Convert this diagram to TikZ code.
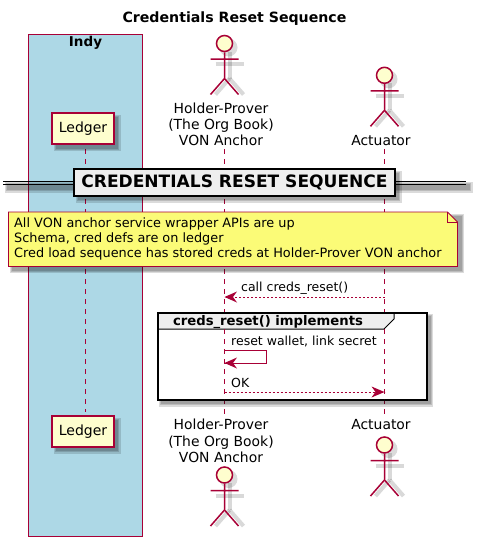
\documentclass[tikz,border=0pt]{standalone}
\usepackage{fontspec}
\setmainfont{DejaVu Sans}
\definecolor{pumlred}{HTML}{A80036}
\definecolor{pumlbeige}{HTML}{FEFECE}
\definecolor{notefill}{HTML}{FBFB77}
\definecolor{boxblue}{HTML}{ADD8E6}
\definecolor{sepfill}{HTML}{EEEEEE}
\tikzset{
  px/.style={x=1pt,y=-1pt},
  lbl/.style={inner sep=0pt,font=\fontsize{13}{15}\selectfont,text=black},
  msg/.style={lbl,anchor=base west,font=\fontsize{12.5}{15}\selectfont},
  actorlabel/.style={lbl,align=center,font=\fontsize{13.9}{16.2}\selectfont,anchor=center},
  head/.style={circle,draw=pumlred,fill=pumlbeige,line width=1.5pt,minimum size=16pt,inner sep=0pt},
  limb/.style={draw=pumlred,line width=1.5pt},
  limbshadow/.style={draw=black,line width=4pt,opacity=.15},
  lifeline/.style={draw=pumlred,line width=.9pt,dash pattern=on 5pt off 5pt},
  ledgerbox/.style={draw=pumlred,fill=pumlbeige,line width=1.5pt,minimum width=62pt,minimum height=31pt,inner sep=0pt,font=\fontsize{14}{15}\selectfont},
  softshadow/.style={fill=black,opacity=.14,draw=none},
  reply/.style={draw=pumlred,line width=.9pt,dash pattern=on 2pt off 2pt},
  solidmsg/.style={draw=pumlred,line width=.9pt},
  tiphead/.style={fill=pumlred,draw=none},
}
% drop shadow made of stacked rectangles
\newcommand{\dropshadow}[4]{%
  \foreach \d in {0,1.2,2.4}{\fill[softshadow] (#1+\d+1.5,#2+\d+1.5) rectangle (#3+6.5-\d,#4+6.5-\d);}}
% \stick{name}{x}{head y}
\newcommand{\stick}[3]{%
  \fill[black,opacity=.14] (#2+4,#3+4) circle (9);
  \draw[limbshadow] (#2+5,#3+8) -- (#2+5,#3+35);
  \draw[limbshadow] (#2-9,#3+20.5) -- (#2+19,#3+20.5);
  \draw[limbshadow] (#2+5,#3+35) -- (#2-9,#3+51);
  \draw[limbshadow] (#2+5,#3+35) -- (#2+19,#3+51);
  \node[head] (#1) at (#2,#3) {};
  \coordinate (#1hip) at (#2,#3+35);
  \coordinate (#1al) at (#2-14,#3+15.5);
  \coordinate (#1ar) at (#2+14,#3+15.5);
  \coordinate (#1ll) at (#2-14,#3+51);
  \coordinate (#1lr) at (#2+14,#3+51);
  \draw[limb] (#1.south) -- (#1hip) (#1al) -- (#1ar) (#1hip) -- (#1ll) (#1hip) -- (#1lr);}
\begin{document}
\begin{tikzpicture}[px]
\useasboundingbox (0,0) rectangle (477,546);
\fill[white] (0,0) rectangle (477,546);
\node[font=\fontsize{14.15}{15}\bfseries\selectfont,inner sep=0pt] (title) at (234.5,19) {Credentials Reset Sequence};
% Indy box
\node[draw=pumlred,fill=boxblue,line width=1pt,minimum width=114pt,minimum height=502pt,inner sep=0pt] (indy) at (85.5,285.5) {};
\node[font=\fontsize{13.5}{15}\bfseries\selectfont,inner sep=0pt] (indylabel) at (85.5,42.7) {Indy};
% lifelines
\coordinate (ledgertop) at (85.5,149);
\coordinate (ledgerbot) at (85.5,412);
\coordinate (holdertop) at (224.5,149);
\coordinate (holderbot) at (224.5,415);
\coordinate (acttop) at (384.5,149);
\coordinate (actbot) at (384.5,415);
\draw[lifeline] (ledgertop) -- (ledgerbot);
\draw[lifeline] (holdertop) -- (holderbot);
\draw[lifeline] (acttop) -- (actbot);
% participants top
\dropshadow{52}{113}{114}{144.5}
\node[ledgerbox] (ledger1) at (83,128.7) {\raisebox{-1.5pt}{Ledger}};
\stick{holderA}{224.5}{43.5}
\node[actorlabel] (holderlabelA) at (221,124.5) {Holder-Prover\\(The Org Book)\\VON Anchor};
\stick{actA}{384.5}{75.3}
\node[actorlabel] (actlabelA) at (381,141) {Actuator};
% participants bottom
\dropshadow{52}{416}{114}{447}
\node[ledgerbox] (ledger2) at (83,431.5) {\raisebox{-1.5pt}{Ledger}};
\stick{holderB}{224.5}{475}
\node[actorlabel] (holderlabelB) at (221,441) {Holder-Prover\\(The Org Book)\\VON Anchor};
\stick{actB}{384.5}{445}
\node[actorlabel] (actlabelB) at (381,425) {Actuator};
% divider
\dropshadow{3}{180}{466}{186}
\dropshadow{74}{169}{395}{196}
\draw[black,line width=1.2pt] (3,181.6) -- (74,181.6) (3,184.6) -- (74,184.6) (395,181.6) -- (466,181.6) (395,184.6) -- (466,184.6);
\node[draw=black,fill=sepfill,line width=2pt,minimum width=321pt,minimum height=27pt,inner sep=0pt,font=\fontsize{17.05}{18}\bfseries\selectfont] (divider) at (234.5,182.5) {\raisebox{-1pt}{CREDENTIALS RESET SEQUENCE}};
% note
\dropshadow{8.5}{212}{457.5}{266.5}
\draw[draw=pumlred,fill=notefill,line width=.9pt] (8.5,212) -- (447.5,212) -- (457.5,222) -- (457.5,266.5) -- (8.5,266.5) -- cycle;
\draw[draw=pumlred,line width=.9pt] (447.5,212) -- (447.5,222) -- (457.5,222);
\node[lbl,anchor=north west,align=left,font=\fontsize{12.85}{14.9}\selectfont] (note) at (14,218) {All VON anchor service wrapper APIs are up\\Schema, cred defs are on ledger\\Cred load sequence has stored creds at Holder-Prover VON anchor};
% message 1
\coordinate (m1a) at (acttop |- 0,297);
\coordinate (m1b) at (holdertop |- 0,297);
\draw[reply] (m1a) -- (m1b);
\fill[tiphead] (m1b) -- ++(12.5,-5.5) -- ++(-4,5.5) -- ++(4,5.5) -- cycle;
\node[msg] (m1label) at (241,291) {call creds\_reset()};
% group
\dropshadow{157.5}{312.5}{426.5}{400}
\draw[draw=black,fill=white,line width=2pt] (157.5,312.5) rectangle (426.5,400);
\draw[draw=black,fill=sepfill,line width=1pt] (157.5,312.5) -- (394,312.5) -- (394,319) -- (384,329) -- (157.5,329) -- cycle;
\draw[black,line width=2pt] (157.5,312.5) rectangle (426.5,400);
\node[inner sep=0pt,font=\fontsize{13.2}{15}\bfseries\selectfont] (grouplabel) at (268,322) {creds\_reset() implements};
\draw[lifeline] (224.5,329) -- (224.5,399);
\draw[lifeline] (384.5,329) -- (384.5,399);
% self message
\node[msg] (m2label) at (231,345.5) {reset wallet, link secret};
\coordinate (m2a) at (224.5,350.5);
\coordinate (m2c) at (266.7,350.5);
\coordinate (m2d) at (266.7,363);
\coordinate (m2b) at (224.5,363);
\draw[solidmsg] (m2a) -- (m2c) -- (m2d) -- (m2b);
\fill[tiphead] (m2b) -- ++(12.5,-5.5) -- ++(-4,5.5) -- ++(4,5.5) -- cycle;
% reply
\coordinate (m3a) at (224.5,392);
\coordinate (m3b) at (384.5,392);
\draw[reply] (m3a) -- (m3b);
\fill[tiphead] (m3b) -- ++(-13,-5.5) -- ++(4,5.5) -- ++(-4,5.5) -- cycle;
\node[msg] (m3label) at (231,387) {OK};
\end{tikzpicture}
\end{document}
